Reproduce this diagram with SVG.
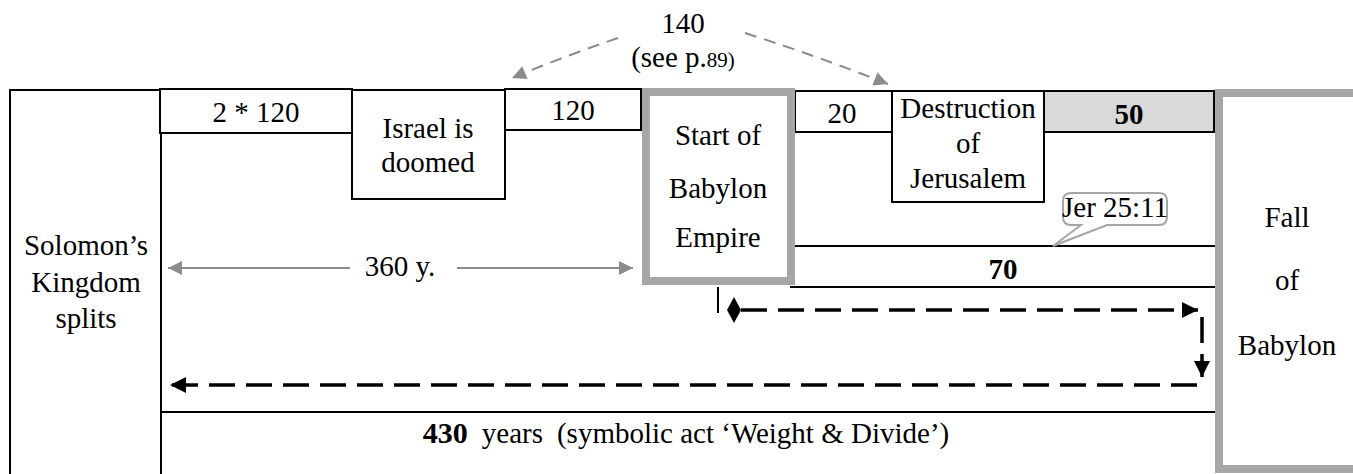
<svg xmlns="http://www.w3.org/2000/svg" width="1353" height="474" viewBox="0 0 1353 474">
<style>
text{font-family:"Liberation Serif","Times New Roman",serif;font-size:29px;fill:#000;text-anchor:middle}
.b{font-weight:bold}
.box{fill:#fff;stroke:#000;stroke-width:2}
.thick{fill:#fff;stroke:#a6a6a6;stroke-width:8}
.ln{stroke:#000;stroke-width:2;fill:none}
.gl{stroke:#8c8c8c;stroke-width:2;fill:none}
.gd{stroke:#8c8c8c;stroke-width:2;fill:none;stroke-dasharray:12 8}
.bd{stroke:#000;stroke-width:3.5;fill:none;stroke-dasharray:26 11}
</style>
<defs>
<marker id="ga" viewBox="0 0 10 10" refX="10" refY="5" markerWidth="8" markerHeight="7" markerUnits="strokeWidth" orient="auto"><path d="M0,0 L10,5 L0,10 z" fill="#8c8c8c"/></marker>
<marker id="ba" viewBox="0 0 10 10" refX="10" refY="5" markerWidth="4.6" markerHeight="4.6" markerUnits="strokeWidth" orient="auto"><path d="M0,0 L10,5 L0,10 z" fill="#000"/></marker>
</defs>

<g id="solomon">
<rect class="box" x="10" y="90" width="151" height="400"/>
<text x="86" y="255">Solomon’s</text>
<text x="86" y="292">Kingdom</text>
<text x="86" y="328">splits</text>
</g>

<g id="period-430">
<path class="ln" d="M161,133 V480 M161,412 H1216"/>
<text x="686" y="443"><tspan class="b" font-size="30px">430</tspan><tspan dx="14">years</tspan><tspan dx="14">(symbolic act ‘Weight &amp; Divide’)</tspan></text>
</g>

<g id="box-2x120">
<rect class="box" x="160" y="89" width="192" height="44"/>
<text x="256" y="122">2 * 120</text>
</g>

<g id="israel">
<rect class="box" x="352" y="90" width="153" height="109"/>
<text x="428" y="138">Israel is</text>
<text x="428" y="172">doomed</text>
</g>

<g id="box-120">
<rect class="box" x="505" y="89" width="136" height="41"/>
<text x="573" y="120">120</text>
</g>

<g id="box-20">
<rect class="box" x="795" y="91" width="97" height="41"/>
<text x="842" y="123">20</text>
</g>

<g id="destruction">
<rect class="box" x="892" y="91" width="152" height="111"/>
<text x="968" y="118">Destruction</text>
<text x="968" y="153">of</text>
<text x="968" y="188">Jerusalem</text>
</g>

<g id="box-50">
<rect x="1044" y="91" width="170" height="41" fill="#d9d9d9" stroke="#000" stroke-width="2"/>
<text class="b" x="1129" y="124">50</text>
</g>

<g id="period-70">
<path class="ln" d="M795,246 H1216 M790,287 H1216"/>
<text class="b" x="1003" y="279">70</text>
</g>

<g id="start-babylon">
<rect class="thick" x="646" y="92" width="145" height="189"/>
<text x="718" y="145">Start of</text>
<text x="718" y="198">Babylon</text>
<text x="718" y="247">Empire</text>
</g>

<g id="fall-babylon">
<rect class="thick" x="1219" y="93" width="150" height="376"/>
<text x="1287" y="227">Fall</text>
<text x="1287" y="290">of</text>
<text x="1287" y="355">Babylon</text>
</g>

<g id="callout-jer">
<path d="M1071,193 H1159 Q1167,193 1167,201 V217 Q1167,225 1159,225 H1107 L1053,246 L1081,225 H1071 Q1063,225 1063,217 V201 Q1063,193 1071,193 Z" fill="#fff" stroke="#a6a6a6" stroke-width="2"/>
<text x="1115" y="217" font-size="23px">Jer 25:11</text>
</g>

<g id="label-140">
<text x="683" y="33" font-size="30px">140</text>
<text x="683" y="67" font-size="24px">(see p.<tspan font-size="21px">89)</tspan></text>
</g>

<g id="label-360">
<text x="400" y="276">360 y.</text>
</g>

<g id="connectors">
<path class="gd" d="M618,38 Q565,56 512,78" marker-end="url(#ga)"/>
<path class="gd" d="M745,33 Q817,56 888,84" marker-end="url(#ga)"/>
<path class="gl" d="M350,268 H168" marker-end="url(#ga)"/>
<path class="gl" d="M457,268 H633" marker-end="url(#ga)"/>
<path class="ln" d="M718,287 V313"/>
<path d="M734,297 L741,310 L734,323 L727,310 Z" fill="#000"/>
<path class="bd" d="M741,310 H1198" marker-end="url(#ba)"/>
<path class="bd" d="M1202,317 V377" marker-end="url(#ba)"/>
<path class="bd" d="M1197,385 H170" marker-end="url(#ba)"/>
</g>
</svg>
